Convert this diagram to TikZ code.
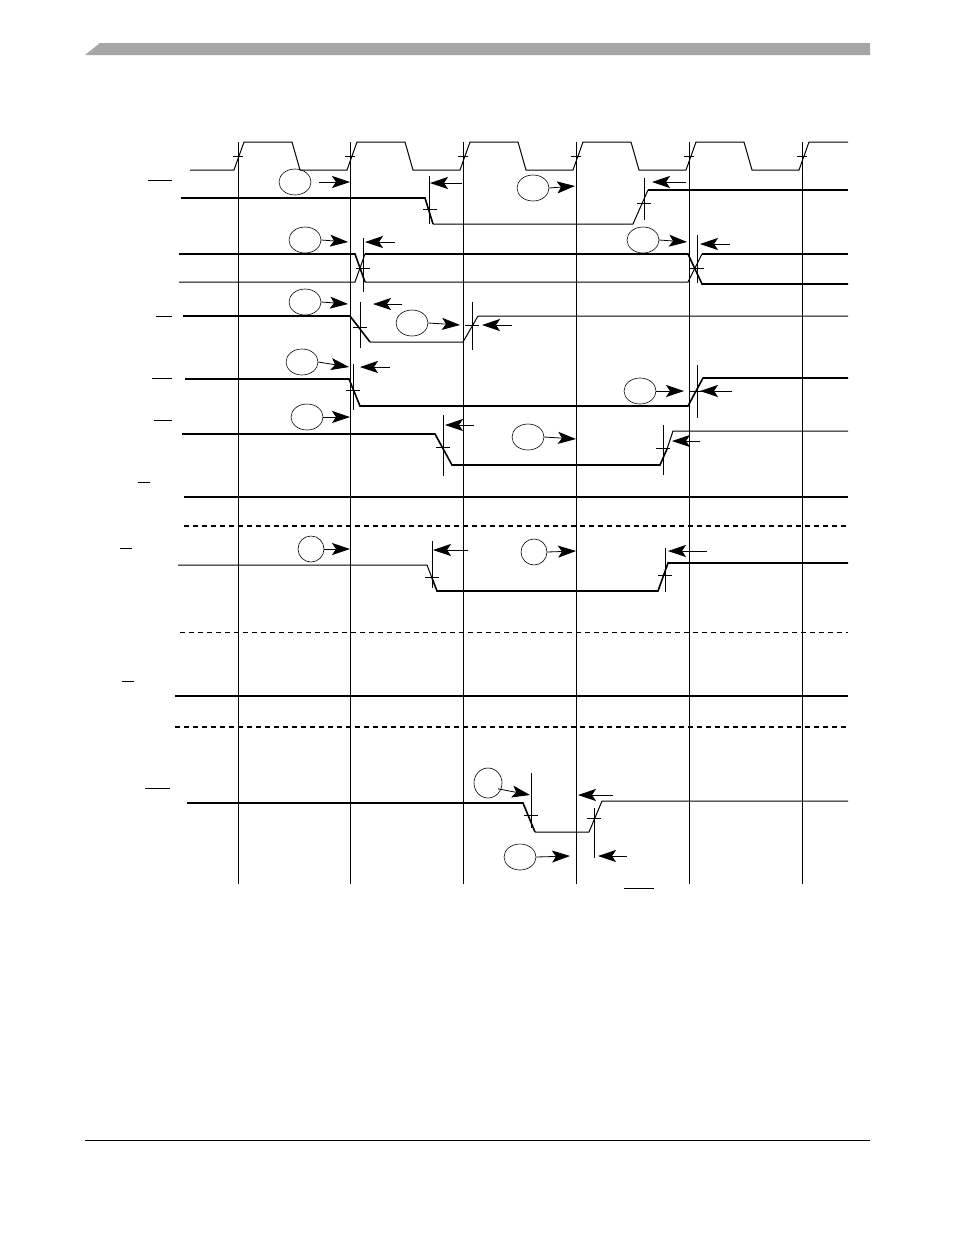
\documentclass[tikz,border=0pt]{standalone}
\usetikzlibrary{arrows.meta, shapes.geometric}
\begin{document}
\begin{tikzpicture}[x=1pt,y=-1pt,
    sig/.style={line width=1.6pt},
    thinln/.style={line width=1pt},
    grid/.style={line width=0.8pt},
    tick/.style={line width=0.7pt},
    lbl/.style={draw, ellipse, line width=0.6pt, minimum width=32pt, minimum height=26pt, inner sep=0pt},
    arr/.style={line width=0.8pt, -{Stealth[length=18pt,width=12pt,inset=4pt]}},
    bar/.style={line width=0.8pt},
    dashln/.style={line width=1.4pt, dash pattern=on 5pt off 4pt}
]
    \useasboundingbox (0,0) rectangle (954,1235);
    % header and footer
    \fill[gray!70] (85,55) -- (100,43) -- (870,43) -- (870,55) -- cycle;
    \draw[line width=0.6pt] (85,1140) -- (870,1140);
    % clock grid
    \foreach \x in {238,350,463,576,689,802}
        \draw[grid] (\x,142) -- (\x,884);
    % clock
    \draw[thinln] (190,170) -- (234,170)
        \foreach \i in {0,...,4} {
            -- ++(10,-28) -- ++(48,0) -- ++(8,28) -- ++(47,0) }
        -- ++(10,-28) -- (848,142);
    \foreach \x in {238,350,463,576,689,802}
        \draw[tick] (\x-5,156) -- (\x+5,156);
    % overbars of signal names
    \foreach \a/\b/\y in {148/172/180, 156/172/316, 152/172/378, 154/172/420,
        138/150/482, 120/132/548, 122/134/681, 145/170/788, 624/654/888}
        \draw[bar] (\a,\y) -- (\b,\y);
    % row 1
    \draw[sig] (181,198) -- (425,198) -- (433,224);
    \draw[thinln] (433,224) -- (633,224) -- (648,190);
    \draw[sig] (648,190) -- (848,190);
    \draw[tick] (429,176) -- (429,224) (423,209) -- (437,209);
    \draw[tick] (644,178) -- (644,220) (637,203) -- (651,203);
    \node[lbl] (c1) at (295,182) {};
    \node[lbl] (c2) at (533,188) {};
    \coordinate (a1) at (350,182); \coordinate (a2) at (430,183);
    \coordinate (a3) at (575,186); \coordinate (a4) at (652,182);
    \draw[arr] (c1.east) ++(8,0) -- (a1);
    \draw[arr] (462,183) -- (a2);
    \draw[arr] (c2.east) -- (a3);
    \draw[arr] (686,182) -- (a4);
    % row 2 (bus)
    \draw[sig] (179,254) -- (355,254) -- (365,282);
    \draw[thinln] (179,282) -- (355,282) -- (365,254);
    \draw[sig] (365,254) -- (688,254) -- (702,284) -- (848,284);
    \draw[thinln] (365,282) -- (688,282) -- (702,254);
    \draw[sig] (702,254) -- (848,254);
    \draw[tick] (363,238) -- (363,292) (356,268) -- (370,268);
    \draw[tick] (697,235) -- (697,283) (690,268) -- (704,268);
    \node[lbl] (c3) at (305,240) {};
    \node[lbl] (c4) at (643,240) {};
    \draw[arr] (c3.east) -- (348,242);
    \draw[arr] (395,242) -- (365,242);
    \draw[arr] (c4.east) -- (687,242);
    \draw[arr] (730,244) -- (700,244);
    % row 3
    \draw[sig] (183,316) -- (350,316) -- (370,342);
    \draw[thinln] (370,342) -- (463,342) -- (478,316) -- (848,316);
    \draw[tick] (360,302) -- (360,348) (353,327) -- (367,327);
    \draw[tick] (472,302) -- (472,350) (465,325) -- (479,325);
    \node[lbl] (c5) at (305,302) {};
    \node[lbl] (c6) at (412,323) {};
    \draw[arr] (c5.east) -- (348,304);
    \draw[arr] (402,304) -- (373,304);
    \draw[arr] (c6.east) -- (460,325);
    \draw[arr] (512,325) -- (482,325);
    % row 4
    \draw[sig] (185,379) -- (349,379) -- (360,406) -- (688,406) -- (703,378) -- (848,378);
    \draw[tick] (353,364) -- (353,410) (346,390) -- (360,390);
    \draw[tick] (697,365) -- (697,418) (690,391) -- (704,391);
    \node[lbl] (c7) at (302,362) {};
    \node[lbl] (c8) at (640,391) {};
    \draw[arr] (c7.east) -- (349,367);
    \draw[arr] (390,367) -- (360,367);
    \draw[arr] (c8.east) -- (684,391);
    \draw[arr] (732,391) -- (700,391);
    % row 5
    \draw[sig] (182,434) -- (435,434) -- (452,465) -- (660,465) -- (667,449);
    \draw[thinln] (667,449) -- (673,431) -- (848,431);
    \draw[tick] (443,415) -- (443,476) (436,447) -- (450,447);
    \draw[tick] (663,425) -- (663,475) (656,448) -- (670,448);
    \node[lbl] (c9) at (307,417) {};
    \node[lbl] (c10) at (528,437) {};
    \draw[arr] (c9.east) -- (350,417);
    \draw[arr] (474,425) -- (445,425);
    \draw[arr] (c10.east) -- (576,439);
    \draw[arr] (700,441) -- (672,441);
    % row 6
    \draw[line width=1.1pt] (184,497) -- (848,497);
    \draw[dashln] (184,526) -- (848,526);
    % row 7
    \draw[thinln] (178,565) -- (427,565) -- (432,578);
    \draw[sig] (432,578) -- (437,591) -- (658,591) -- (668,563) -- (848,563);
    \draw[tick] (432,541) -- (432,588) (425,577) -- (439,577);
    \draw[tick] (665,548) -- (665,592) (658,575) -- (672,575);
    \node[lbl, minimum width=26pt] (c11) at (311,549) {};
    \node[lbl, minimum width=26pt] (c12) at (534,552) {};
    \draw[arr] (c11.east) -- (350,549);
    \draw[arr] (468,550) -- (433,550);
    \draw[arr] (c12.east) -- (576,551);
    \draw[arr] (707,551) -- (668,551);
    \draw[dashln, line width=1pt] (180,632) -- (848,632);
    % row 8
    \draw[sig] (175,696) -- (848,696);
    \draw[dashln, line width=1.1pt] (175,727) -- (848,727);
    % row 9
    \draw[sig] (187,803) -- (523,803) -- (535,832);
    \draw[thinln] (535,832) -- (589,832) -- (602,801) -- (848,801);
    \draw[tick] (531,773) -- (531,828) (524,815) -- (538,815);
    \draw[tick] (594,808) -- (594,858) (587,818) -- (601,818);
    \node[lbl, minimum width=28pt, minimum height=30pt] (c13) at (488,783) {};
    \node[lbl] (c14) at (520,857) {};
    \draw[arr] (c13.south east) ++(0,-5) -- (530,795);
    \draw[arr] (613,795) -- (578,795);
    \draw[arr] (c14.east) -- (570,856);
    \draw[arr] (627,856) -- (598,856);
\end{tikzpicture}
\end{document}
